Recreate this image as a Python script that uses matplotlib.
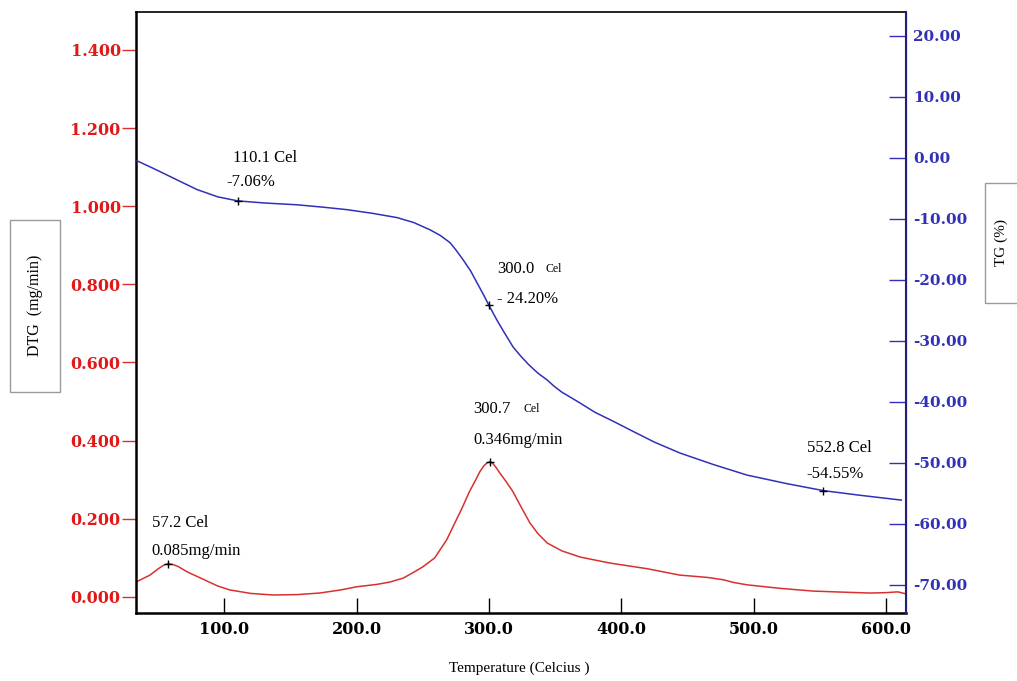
import matplotlib.pyplot as plt
from matplotlib.patches import Rectangle

# DTG curve (mg/min, left axis)
dtg_temp = [33.2, 43.8, 50.0, 54.0, 57.2, 61.0, 65.0, 72.0, 81.6, 95.0, 104.0, 120.0, 136.7,
            155.0, 172.0, 188.0, 200.0, 215.0, 225.0, 235.0, 242.0, 250.0, 259.0, 268.0,
            275.0, 280.0, 285.0, 290.0, 293.0, 296.0, 298.5, 300.7, 302.5, 305.0, 308.0,
            313.0, 318.0, 324.0, 331.0, 337.0, 344.0, 355.0, 369.0, 391.0, 420.0, 444.0,
            465.0, 477.0, 485.0, 495.0, 520.0, 545.0, 570.0, 588.0, 600.0, 609.0, 615.0]
dtg_val = [0.038, 0.056, 0.072, 0.081, 0.085, 0.083, 0.078, 0.064, 0.049, 0.028, 0.018,
           0.009, 0.005, 0.006, 0.010, 0.018, 0.026, 0.032, 0.038, 0.048, 0.061, 0.077,
           0.100, 0.146, 0.195, 0.230, 0.268, 0.300, 0.320, 0.335, 0.343, 0.346, 0.343,
           0.333, 0.318, 0.295, 0.270, 0.232, 0.189, 0.162, 0.138, 0.118, 0.102, 0.087,
           0.072, 0.056, 0.050, 0.044, 0.037, 0.031, 0.022, 0.015, 0.012, 0.010, 0.011,
           0.013, 0.008]

# TG curve (%, right axis)
tg_temp = [34.0, 45.0, 53.6, 65.0, 79.3, 95.0, 110.1, 130.0, 154.9, 175.0, 192.7, 212.0,
           230.5, 243.0, 255.4, 263.0, 270.5, 275.0, 280.4, 286.0, 291.0, 296.0, 300.0,
           306.0, 312.0, 318.2, 324.0, 330.0, 337.0, 343.9, 349.0, 355.0, 362.0, 368.9,
           380.0, 395.0, 406.7, 425.0, 444.5, 470.0, 495.0, 525.0, 552.8, 580.0, 611.6]
tg_val = [-0.5, -1.6, -2.5, -3.7, -5.2, -6.4, -7.06, -7.4, -7.7, -8.1, -8.5, -9.1,
          -9.8, -10.6, -11.8, -12.7, -13.9, -15.1, -16.7, -18.5, -20.5, -22.5, -24.2,
          -26.6, -28.8, -31.0, -32.5, -33.9, -35.3, -36.4, -37.4, -38.4, -39.3, -40.2,
          -41.7, -43.3, -44.6, -46.6, -48.4, -50.3, -52.0, -53.4, -54.55, -55.3, -56.1]

dtg_peak_t = [57.2, 300.7]
dtg_peak_y = [0.085, 0.346]
tg_mark_t = [110.1, 300.0, 552.8]
tg_mark_y = [-7.06, -24.2, -54.55]

x_ticks = [100, 200, 300, 400, 500, 600]
left_ticks = [0.0, 0.2, 0.4, 0.6, 0.8, 1.0, 1.2, 1.4]
right_ticks = [20, 10, 0, -10, -20, -30, -40, -50, -60, -70]

red = '#d83030'
blue = '#3030b8'
serif = 'Liberation Serif'
fs = 12
tickfont = {'family': 'DejaVu Serif', 'weight': 'bold', 'size': 11.5}


def note(axis, txt, xy, off, size=fs):
    axis.annotate(txt, xy, xytext=off, textcoords='offset points',
                  ha='left', va='center', fontsize=size, family=serif)


fig = plt.figure(figsize=(10.17, 6.81), dpi=100)
ax = fig.add_axes([0.1337, 0.0999, 0.7572, 0.8825])
ax2 = ax.twinx()

ax.plot(dtg_temp, dtg_val, color=red, lw=1.1)
ax2.plot(tg_temp, tg_val, color=blue, lw=1.1)
ax.plot(dtg_peak_t, dtg_peak_y, '+', color='black', ms=6, mew=1)
ax2.plot(tg_mark_t, tg_mark_y, '+', color='black', ms=6, mew=1)

ax.set_xlim(33.2, 615.2)
ax.set_ylim(-0.041, 1.497)
ax2.set_ylim(-74.6, 23.9)

ax.set_xticks(x_ticks)
ax.set_xticklabels(['%.1f' % v for v in x_ticks], fontdict=tickfont)
ax.set_yticks(left_ticks)
ax.set_yticklabels(['%.3f' % v for v in left_ticks], fontdict=tickfont, color='#e01818')
ax2.set_yticks(right_ticks)
ax2.set_yticklabels(['%.2f' % v for v in right_ticks], fontdict=dict(tickfont, size=11),
                    color=blue)

ax.tick_params(axis='x', direction='in', length=11, width=1, pad=6, colors='black')
ax.tick_params(axis='y', direction='out', length=10, width=1, pad=1, color=red)
ax2.tick_params(axis='y', direction='in', length=12, width=1, pad=5, color=blue)

for s in ['left', 'bottom']:
    ax.spines[s].set_linewidth(1.8)
ax.spines['top'].set_linewidth(1.2)
ax2.spines['right'].set_color('#20207a')
ax2.spines['right'].set_linewidth(1.5)
for s in ['left', 'bottom', 'top']:
    ax2.spines[s].set_visible(False)

# point labels
p1 = (dtg_peak_t[0], dtg_peak_y[0])
note(ax, '57.2 Cel', p1, (-11.5, 29.5))
note(ax, '0.085mg/min', p1, (-11.5, 9.5))
p2 = (dtg_peak_t[1], dtg_peak_y[1])
note(ax, '300.7', p2, (-12, 38))
note(ax, 'Cel', p2, (24, 38), size=8.5)
note(ax, '0.346mg/min', p2, (-12, 16))

m1 = (tg_mark_t[0], tg_mark_y[0])
note(ax2, '110.1 Cel', m1, (-3.5, 31))
note(ax2, '-7.06%', m1, (-8.5, 13.5))
m2 = (tg_mark_t[1], tg_mark_y[1])
note(ax2, '300.0', m2, (6, 26.5))
note(ax2, 'Cel', m2, (41, 26.5), size=8.5)
note(ax2, '- 24.20%', m2, (6, 5))
m3 = (tg_mark_t[2], tg_mark_y[2])
note(ax2, '552.8 Cel', m3, (-12, 30.5))
note(ax2, '-54.55%', m3, (-12, 12))

# axis titles in boxes
fig.patches.append(Rectangle((10 / 1017, 1 - 392 / 681), 50 / 1017, 172 / 681,
                             transform=fig.transFigure, fill=False, ec='#9a9a9a', lw=1))
fig.text(35 / 1017, 1 - 305 / 681, 'DTG  (mg/min)', rotation=90, ha='center', va='center',
         fontsize=11.5, family=serif)
fig.patches.append(Rectangle((985 / 1017, 1 - 303 / 681), 40 / 1017, 120 / 681,
                             transform=fig.transFigure, fill=False, ec='#9a9a9a', lw=1))
fig.text(1001 / 1017, 1 - 243 / 681, 'TG (%)', rotation=90, ha='center', va='center',
         fontsize=11, family=serif)
fig.text(519 / 1017, 1 - 668 / 681, 'Temperature (Celcius )', ha='center', va='center',
         fontsize=11, family=serif)

fig.savefig('out.png', dpi=100)
